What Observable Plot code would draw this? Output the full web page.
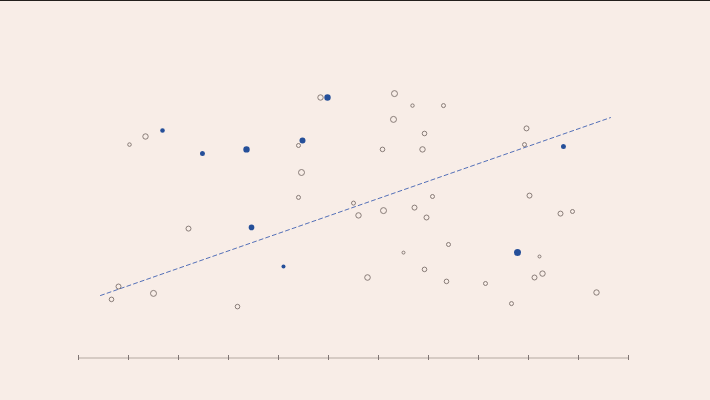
<!DOCTYPE html>
<html>
<head>
<meta charset="utf-8">
<script src="https://cdn.jsdelivr.net/npm/d3@7"></script>
<script src="https://cdn.jsdelivr.net/npm/@observablehq/plot@0.6"></script>
<style>
  html, body { margin: 0; padding: 0; background: #f8ede7; }
  #wrap { position: relative; width: 710px; height: 400px; }
  #topbar { position: absolute; left: 0; top: 0; width: 710px; height: 1px; background: #231f1c; }
</style>
</head>
<body>
<div id="wrap"><div id="topbar"></div><div id="chart"></div></div>
<script>
// Point data (x, y in arbitrary chart units; size = magnitude; highlighted = filled)
const xs = [1.02,1.34,1.68,2.48,3.36,4.48,4.40,4.46,4.40,2.20,3.46,4.84,4.98,6.32,6.68,7.30,6.30,6.92,6.08,6.88,5.50,5.60,6.10,6.72,7.08,6.96,8.96,8.92,9.70,9.02,9.64,9.88,4.10,0.80,0.66,1.50,3.18,7.40,6.50,8.78,9.22,5.78,6.92,7.36,8.14,9.12,9.28,8.66,10.36];
const ys = [70.3,73,75,67.3,68.7,71.7,70,61,52.7,42.3,42.7,86,86,87.3,83.3,83.3,78.7,74,68.7,68.7,50.8,46.7,48.3,49.3,53,46,75.7,70.3,69.7,53.3,47.3,48,29.7,23,18.7,20.7,16.3,37,34.3,34.3,33,26,28.7,24.7,24,26,27.3,17.3,21];
const sizes = [26,60,43,51,84,73,33,73,33,51,64,60,84,73,24,33,73,43,43,60,33,60,73,51,33,51,51,33,51,51,51,33,33,51,43,73,43,33,18,100,18,64,43,43,33,51,60,33,60];
const highlighted = [0,0,1,1,1,1,0,0,0,0,1,0,1,0,0,0,0,0,0,0,0,0,0,0,0,0,0,0,1,0,0,0,1,0,0,0,0,0,0,1,0,0,0,0,0,0,0,0,0];
// Trend line endpoints
const trendX = [0.44, 10.64];
const trendY = [20, 79.3];
// Axis ticks
const xTicks = [0,1,2,3,4,5,6,7,8,9,10,11];

const points = xs.map((x, i) => ({x, y: ys[i], size: sizes[i], hl: highlighted[i] === 1}));
const trend = trendX.map((x, i) => ({x, y: trendY[i]}));

const chart = Plot.plot({
  width: 710,
  height: 400,
  marginLeft: 78,
  marginRight: 82,
  marginTop: 55,
  marginBottom: 45,
  style: {background: "#f8ede7"},
  x: {domain: [0, 11], axis: null},
  y: {domain: [0, 100], axis: null},
  r: {domain: [0, 100], range: [0, 3.5]},
  marks: [
    Plot.ruleY([0], {dy: 2.5, stroke: "#cbbfb9", strokeWidth: 1.5}),
    Plot.axisX(xTicks, {tickSize: 5, tickFormat: () => "", label: null, stroke: "#7f7573", strokeWidth: 1}),
    Plot.line(trend, {x: "x", y: "y", stroke: "#5470b8", strokeWidth: 1, strokeDasharray: "4,3"}),
    Plot.dot(points.filter(d => !d.hl), {x: "x", y: "y", r: "size", fill: "none", stroke: "#7d716c", strokeWidth: 0.9}),
    Plot.dot(points.filter(d => d.hl), {x: "x", y: "y", r: "size", fill: "#254f99", stroke: "none"})
  ]
});
document.getElementById("chart").appendChild(chart);
</script>
</body>
</html>
